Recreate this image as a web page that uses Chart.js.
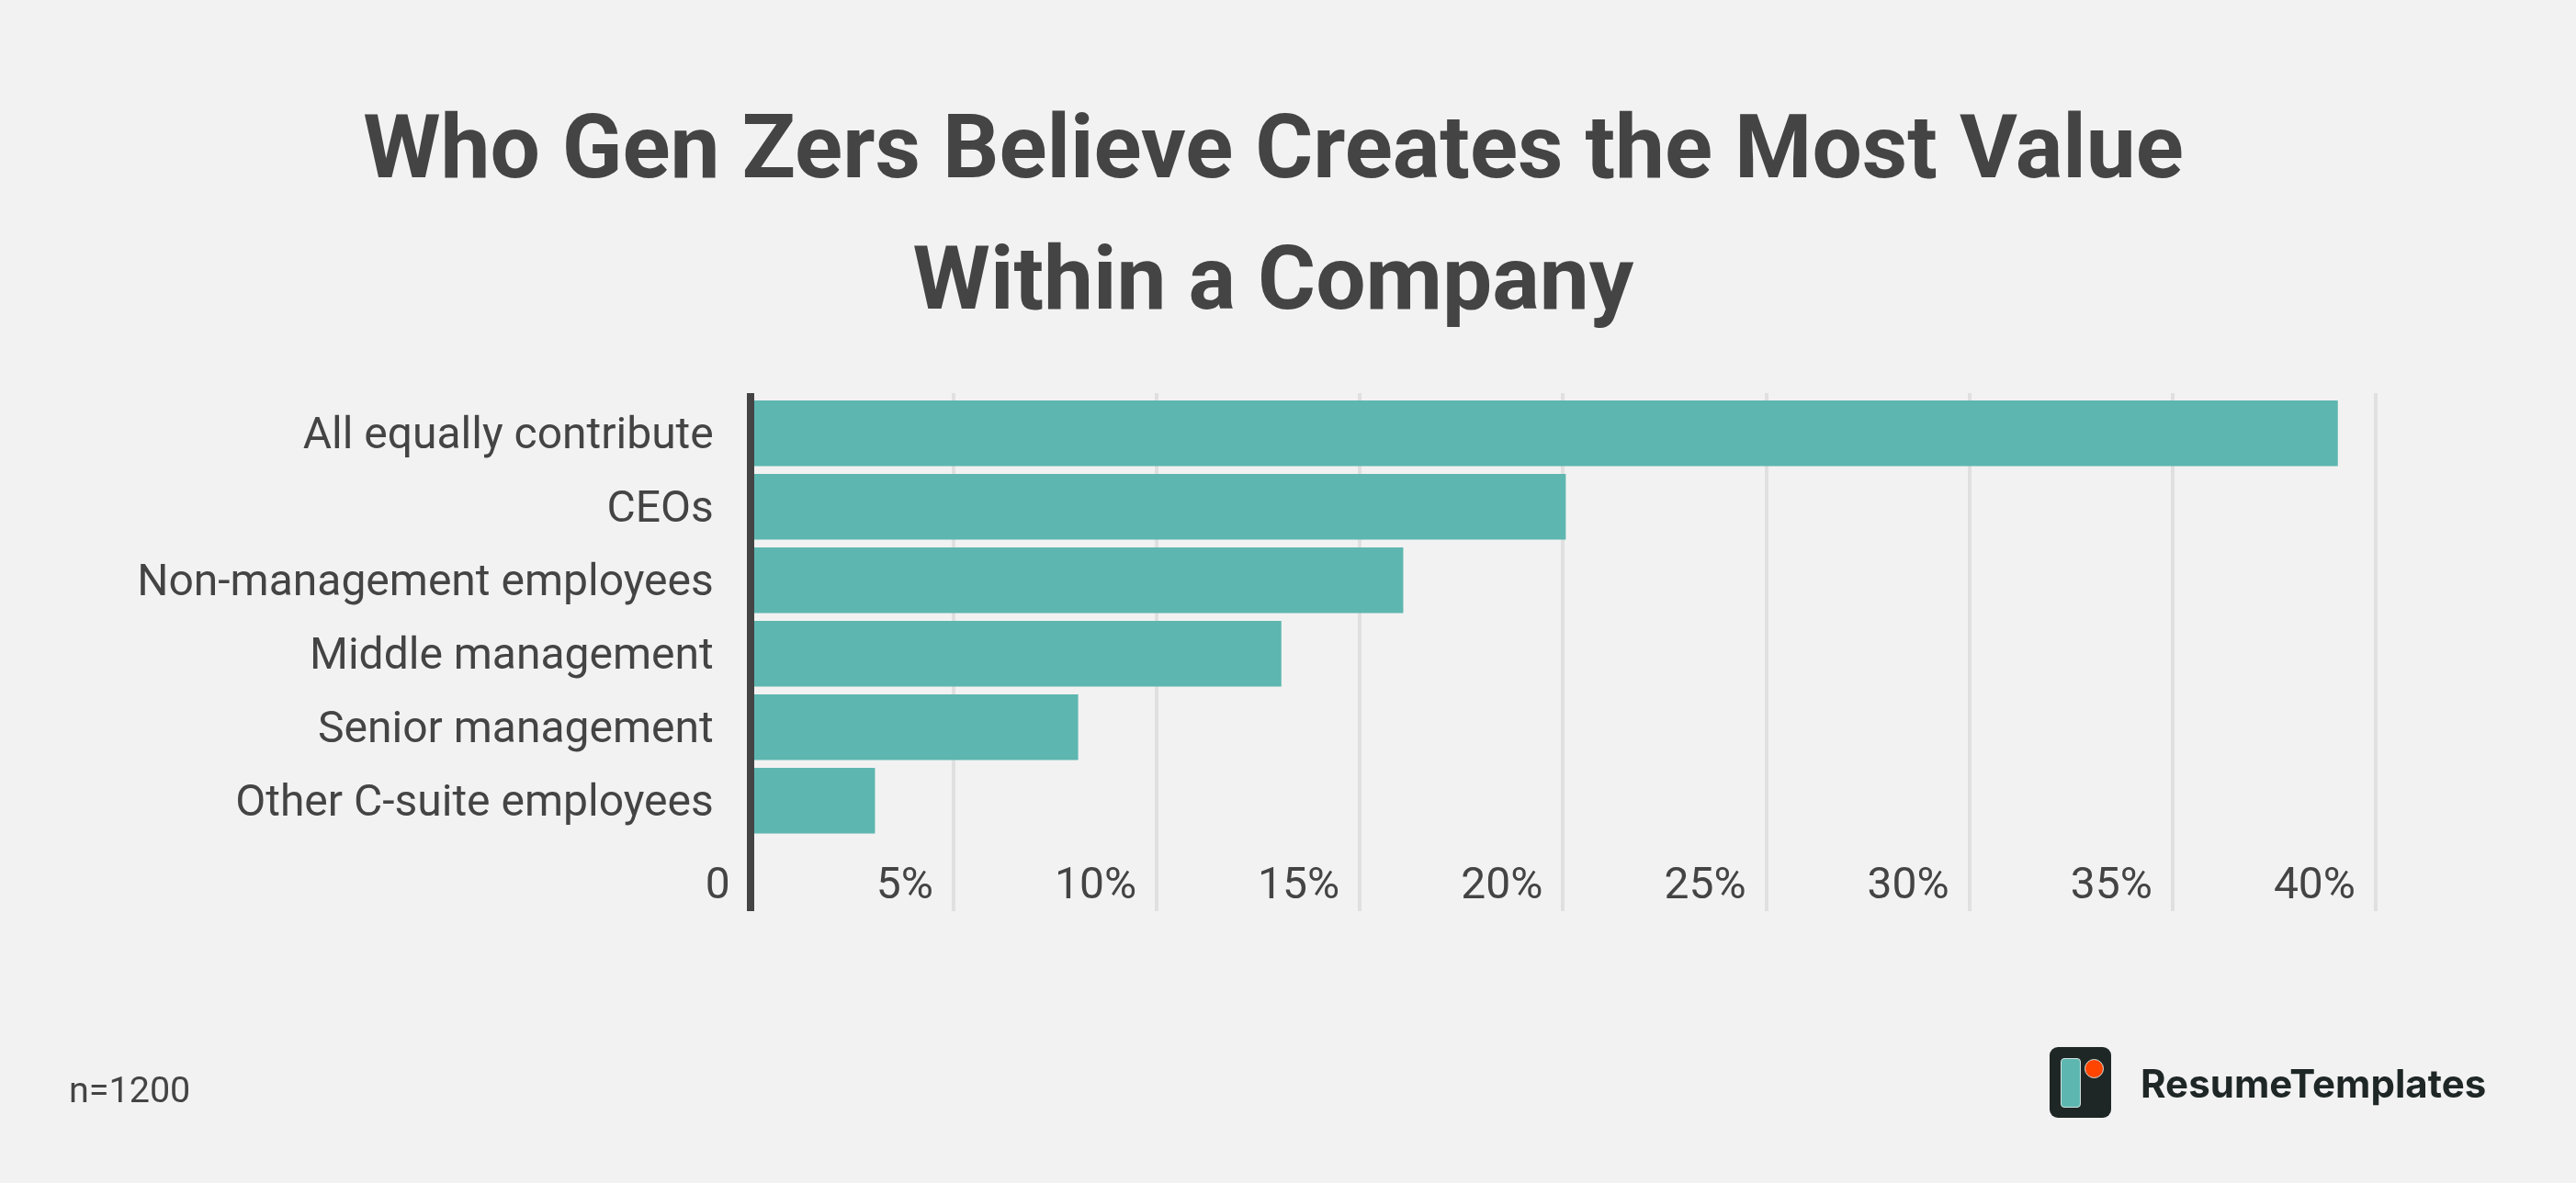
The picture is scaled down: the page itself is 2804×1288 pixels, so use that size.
<!DOCTYPE html>
<html>
<head>
<meta charset="utf-8">
<title>Who Gen Zers Believe Creates the Most Value Within a Company</title>
<script src="https://cdn.jsdelivr.net/npm/chart.js@4/dist/chart.umd.min.js"></script>
<style>
    html, body { margin: 0; padding: 0; background: #f2f2f2; }
    #page { position: relative; width: 2804px; height: 1288px; overflow: hidden; font-family: Roboto, sans-serif; color: #444; }
    canvas { position: absolute; left: 0; top: 0; }
    h1 { position: absolute; left: 0; top: 89px; width: 2772px; margin: 0; text-align: center; font-size: 96.4px; line-height: 143px; font-weight: 700; }
    #note { position: absolute; left: 75px; top: 1164px; font-size: 39.5px; line-height: 46px; }
    #logo { position: absolute; left: 2231px; top: 1140px; width: 67px; height: 77px; border-radius: 9px; background: #1e2726; }
    #logo i { position: absolute; display: block; box-sizing: border-box; border: 1px solid #cfe3e0; }
    #logo .bar { left: 12px; top: 12px; width: 22px; height: 54px; border-radius: 4px; background: #5eb6b0; }
    #logo .dot { left: 38px; top: 13px; width: 21px; height: 21px; border-radius: 50%; background: #ff4500; }
    #brand { position: absolute; left: 2330px; top: 1153px; font-family: Inter, sans-serif; font-weight: 700; font-size: 42px; line-height: 54px; color: #1e2726; letter-spacing: 0.05px; }
</style>
</head>
<body>
<div id="page">
    <canvas id="chart" width="2804" height="1288"></canvas>
    <h1>Who Gen Zers Believe Creates the Most Value<br>Within a Company</h1>
    <div id="note">n=1200</div>
    <div id="logo"><i class="bar"></i><i class="dot"></i></div>
    <div id="brand">ResumeTemplates</div>
</div>
<script>
const categories = ['All equally contribute', 'CEOs', 'Non-management employees', 'Middle management', 'Senior management', 'Other C-suite employees'];
const shares = [39, 20, 16, 13, 8, 3];
const tickLabels = ['0', '5%', '10%', '15%', '20%', '25%', '30%', '35%', '40%'];

const textColor = '#444444';
const tickFont = { family: 'Roboto', size: 48 };

// gridlines and axis line stick out a little above the first band
const extendLines = {
    id: 'extendLines',
    afterLayout(chart) {
        chart.chartArea.top -= 3.8;
    }
};

new Chart(document.getElementById('chart'), {
    type: 'bar',
    plugins: [extendLines],
    data: {
        // empty last band leaves room for the value labels inside the plot
        labels: [...categories, ''],
        datasets: [{
            data: [...shares, null],
            backgroundColor: '#5eb6b0',
            inflateAmount: 3,
            barPercentage: 0.82,
            categoryPercentage: 1
        }]
    },
    options: {
        indexAxis: 'y',
        responsive: false,
        animation: false,
        layout: {
            autoPadding: false,
            padding: { left: 0, right: 218, top: 431.8, bottom: 296.2 }
        },
        plugins: {
            legend: { display: false },
            title: { display: false },
            tooltip: { enabled: false }
        },
        scales: {
            x: {
                min: 0,
                max: 40,
                afterFit(scale) { scale.height = 0; },
                border: { display: false },
                grid: { color: '#e0e0e0', lineWidth: 4, drawTicks: false },
                ticks: {
                    stepSize: 5,
                    autoSkip: false,
                    maxRotation: 0,
                    align: 'end',
                    labelOffset: -22,
                    // mirror stops the scale from clipping labels drawn inside the plot
                    mirror: true,
                    padding: -3,
                    color: textColor,
                    font: tickFont,
                    callback: (value, index) => tickLabels[index]
                }
            },
            y: {
                afterFit(scale) { scale.width = 816.75; },
                border: { color: textColor, width: 8, z: 1 },
                grid: { display: false, drawTicks: false },
                ticks: {
                    autoSkip: false,
                    padding: 40,
                    labelOffset: 4,
                    color: textColor,
                    font: tickFont
                }
            }
        }
    }
});
</script>
</body>
</html>
